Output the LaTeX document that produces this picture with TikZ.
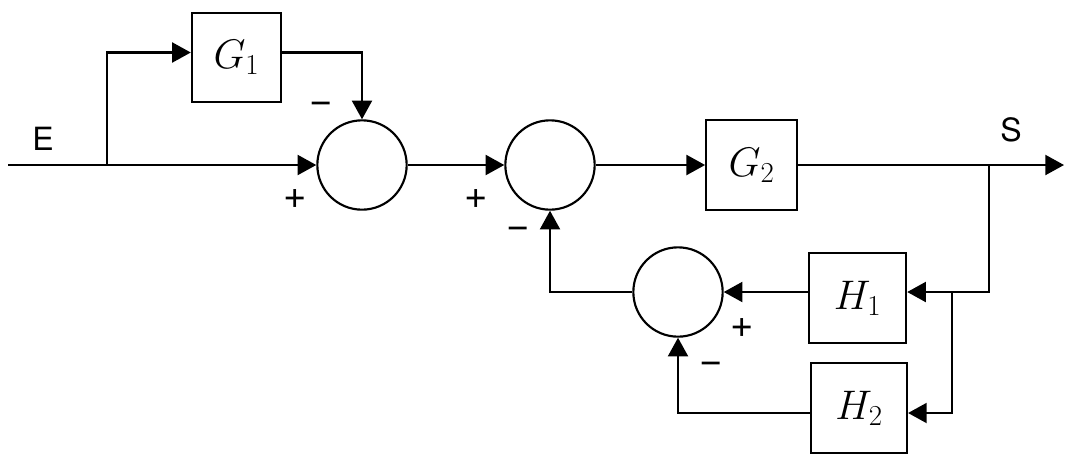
\RequirePackage{fix-cm}
\documentclass[tikz,border=0pt]{standalone}
\usepackage{fontspec}
\newfontfamily\labelfont{TeX Gyre Heros}
\usetikzlibrary{arrows.meta}
\begin{document}
\begin{tikzpicture}[x=0.75pt,y=-0.75pt,line width=1.6pt,
  sumnode/.style={draw,circle,minimum size=67pt,inner sep=0pt},
  block/.style={draw,minimum width=#1,minimum height=67pt,inner sep=0pt,
    font=\fontsize{31}{34}\selectfont},
  sig/.style={-{Triangle[length=14pt,width=15pt]}},
  signlbl/.style={font=\labelfont\fontsize{30}{32}\selectfont,inner sep=0pt},
  namelbl/.style={font=\labelfont\fontsize{24}{26}\selectfont,inner sep=0pt}]
\useasboundingbox (0,0) rectangle (1066,455);

% summing junctions
\node[sumnode] (s1) at (362,165) {};
\node[sumnode] (s2) at (550,165) {};
\node[sumnode] (s3) at (678,292) {};

% transfer blocks
\node[block=67pt] (g1) at (236.5,57.5) {$G_1$};
\node[block=68pt] (g2) at (751.5,165) {$G_2$};
\node[block=73pt] (h1) at (857.5,298) {$H_1$};
\node[block=72pt] (h2) at (859,408) {$H_2$};

% branch points and free ends
\coordinate (in) at (8,165);
\coordinate (b1) at (107,165);
\coordinate (b2) at (989,165);
\coordinate (b3) at (952,292);
\coordinate (out) at (1064,165);

% forward path
\draw (in) -- (b1);
\draw[sig] (b1) -- (s1);
\draw[sig] (b1) |- ([yshift=3.75pt]g1.west);
\draw[sig] ([yshift=3.75pt]g1.east) -| (s1);
\draw[sig] (s1) -- (s2);
\draw[sig] (s2) -- (g2);
\draw[sig] (g2) -- (out);

% feedback paths
\draw[sig] (b2) |- ([yshift=4.5pt]h1.east);
\draw[sig] (b3) |- ([yshift=-3.75pt]h2.east);
\draw[sig] ([yshift=4.5pt]h1.west) -- (s3);
\draw[sig] ([yshift=-3.75pt]h2.west) -| (s3);
\draw[sig] (s3) -| (s2);

% signal names
\node[namelbl] at (43,139) {E};
\node[namelbl] at (1011,130) {S};

% signs at the junction inputs
\node[signlbl] at (321,108) {−};
\node[signlbl] at (295,199) {+};
\node[signlbl] at (476,199) {+};
\node[signlbl] at (518,233) {−};
\node[signlbl] at (742,328) {+};
\node[signlbl] at (711,368) {−};
\end{tikzpicture}
\end{document}
